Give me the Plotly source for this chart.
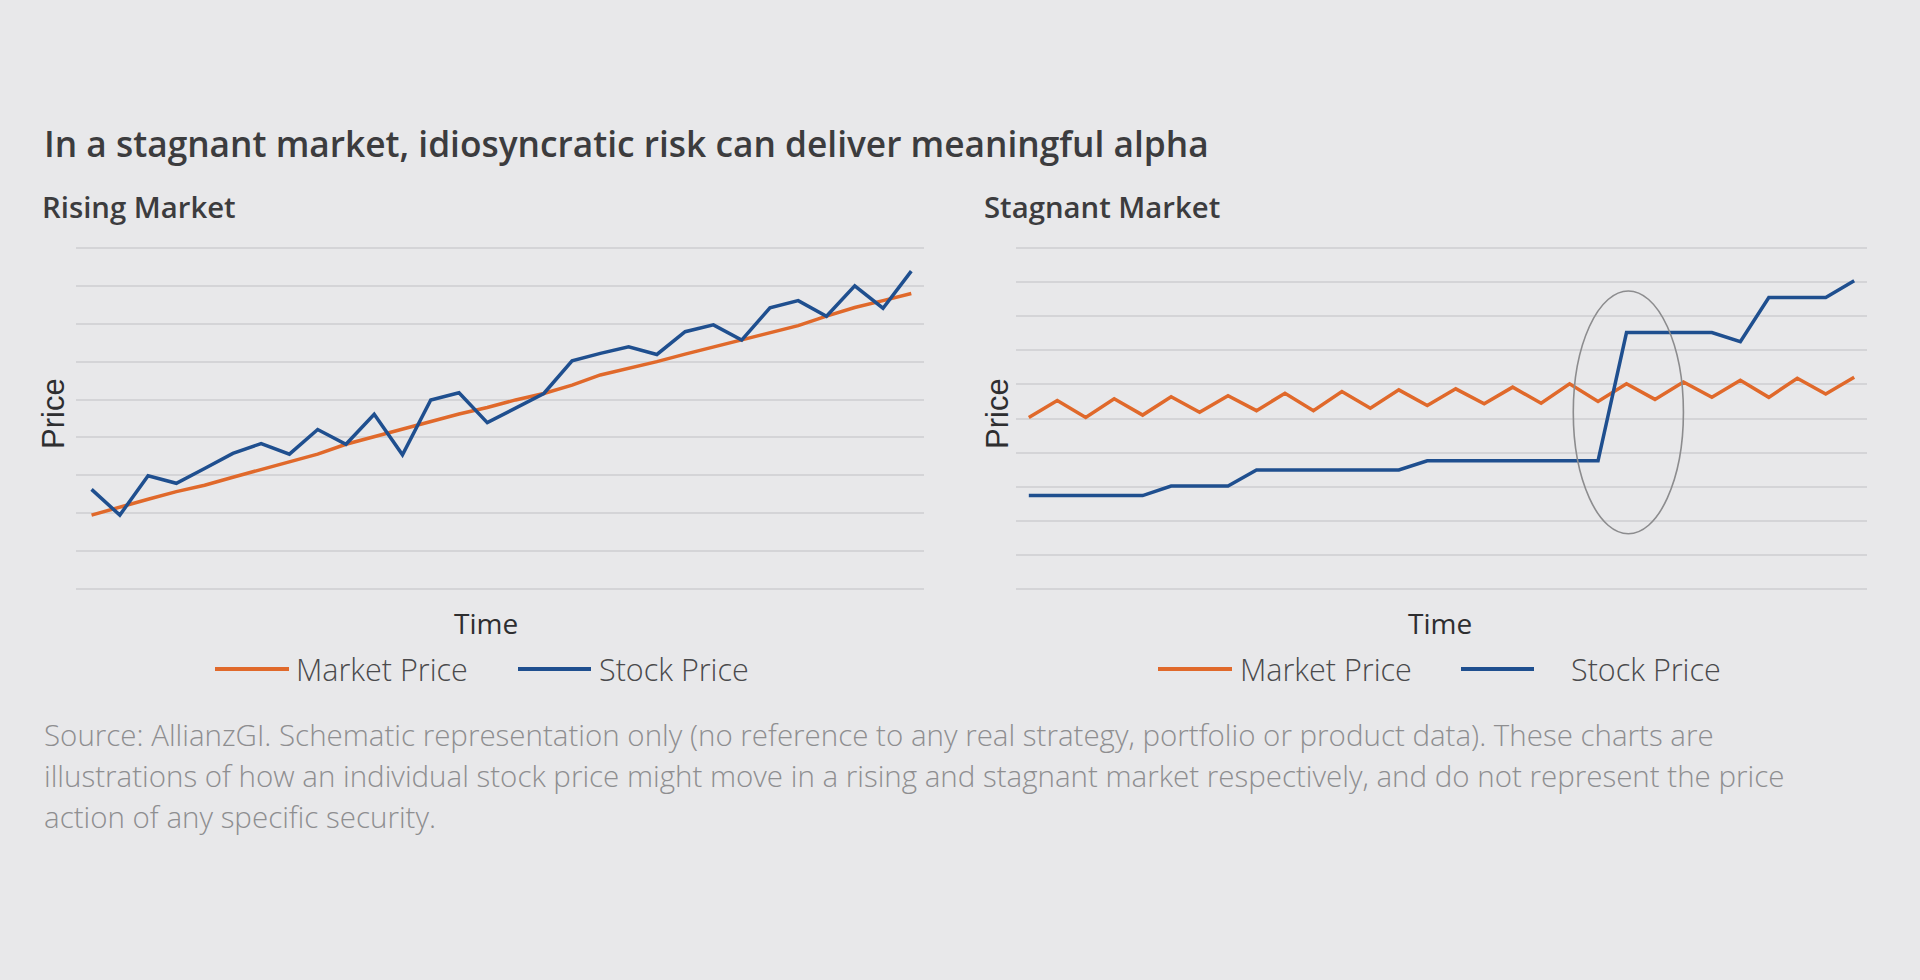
import plotly.graph_objects as go

# ---------------- data ----------------
time_idx = list(range(30))

rising_market = [1.95, 2.17, 2.37, 2.57, 2.74, 2.95, 3.16, 3.36, 3.56, 3.82,
                 4.02, 4.21, 4.43, 4.62, 4.79, 4.99, 5.16, 5.38, 5.65, 5.82,
                 6.00, 6.20, 6.39, 6.57, 6.76, 6.95, 7.20, 7.43, 7.61, 7.80]
rising_stock = [2.63, 1.95, 2.99, 2.79, 3.18, 3.58, 3.84, 3.56, 4.21, 3.82,
                4.61, 3.54, 4.99, 5.18, 4.39, 4.77, 5.16, 6.02, 6.22, 6.39,
                6.19, 6.79, 6.97, 6.57, 7.42, 7.61, 7.20, 8.00, 7.41, 8.39]

stagnant_market = [5.03, 5.53, 5.03, 5.58, 5.10, 5.64, 5.18, 5.67, 5.23, 5.74,
                   5.23, 5.79, 5.30, 5.84, 5.38, 5.87, 5.43, 5.92, 5.45, 6.02,
                   5.50, 6.02, 5.56, 6.07, 5.62, 6.12, 5.62, 6.18, 5.72, 6.21]
stagnant_stock = [2.74, 2.74, 2.74, 2.74, 2.74, 3.02, 3.02, 3.02, 3.49, 3.49,
                  3.49, 3.49, 3.49, 3.49, 3.76, 3.76, 3.76, 3.76, 3.76, 3.76,
                  3.76, 7.52, 7.52, 7.52, 7.52, 7.25, 8.55, 8.55, 8.55, 9.04]

# highlighted jump (time from/to, price from/to)
highlight_x = [19.13, 23.0]
highlight_y = [1.62, 8.74]

series_names = ["Market Price", "Stock Price"]
title_text = "In a stagnant market, idiosyncratic risk can deliver meaningful alpha"
panel_titles = ["Rising Market", "Stagnant Market"]
x_label = "Time"
y_label = "Price"
footnote_lines = [
    "Source: AllianzGI. Schematic representation only (no reference to any real strategy, portfolio or product data). These charts are",
    "illustrations of how an individual stock price might move in a rising and stagnant market respectively, and do not represent the price",
    "action of any specific security.",
]

# ---------------- style ----------------
W, H = 1920, 980
BG = "#E8E8EA"
GRID = "#D4D4D7"
ORANGE = "#E0692B"
BLUE = "#1F4F8F"
TXT = "#3A3A3C"
FOOT = "#8E8E90"
FONT = "Open Sans"

def px(x):
    return x / W

def py(y):
    return 1 - y / H

fig = go.Figure()

line_w = 3.5
fig.add_trace(go.Scatter(x=time_idx, y=rising_market, mode="lines", name=series_names[0],
                         line=dict(color=ORANGE, width=line_w), xaxis="x", yaxis="y", showlegend=False))
fig.add_trace(go.Scatter(x=time_idx, y=rising_stock, mode="lines", name=series_names[1],
                         line=dict(color=BLUE, width=line_w), xaxis="x", yaxis="y", showlegend=False))
fig.add_trace(go.Scatter(x=time_idx, y=stagnant_market, mode="lines", name=series_names[0],
                         line=dict(color=ORANGE, width=line_w), xaxis="x2", yaxis="y2", showlegend=False))
fig.add_trace(go.Scatter(x=time_idx, y=stagnant_stock, mode="lines", name=series_names[1],
                         line=dict(color=BLUE, width=line_w), xaxis="x2", yaxis="y2", showlegend=False))

# plot area: gridline 0 at y=589px, top gridline at y=248px; pad 4px so edge gridlines are drawn
TOP, BOT, PADPX = 248, 589, 4
n1, n2 = 9, 10
pad1 = PADPX * n1 / (BOT - TOP)
pad2 = PADPX * n2 / (BOT - TOP)
ydom = [py(BOT + PADPX), py(TOP - PADPX)]

common_x = dict(showgrid=False, zeroline=False, showticklabels=False, ticks="", showline=False)
common_y = dict(showgrid=True, gridcolor=GRID, gridwidth=2, zeroline=False,
                showticklabels=False, ticks="", showline=False, dtick=1, tick0=0)

fig.update_layout(
    width=W, height=H,
    margin=dict(l=0, r=0, t=0, b=0),
    paper_bgcolor=BG, plot_bgcolor=BG,
    showlegend=False,
    xaxis=dict(domain=[px(76), px(924)], range=[-0.55, 29.45], **common_x),
    yaxis=dict(domain=ydom, range=[-pad1, n1 + pad1], anchor="x", **common_y),
    xaxis2=dict(domain=[px(1016), px(1867)], range=[-0.45, 29.45], anchor="y2", **common_x),
    yaxis2=dict(domain=ydom, range=[-pad2, n2 + pad2], anchor="x2", **common_y),
)

# highlight ellipse
fig.add_shape(type="circle", xref="x2", yref="y2",
              x0=highlight_x[0], x1=highlight_x[1], y0=highlight_y[0], y1=highlight_y[1],
              line=dict(color="#8C8C8E", width=1.6), layer="above")

ann = []

def text(x, y, s, size, color=TXT, xanchor="left", weight=None, family=FONT, angle=0):
    f = dict(family=family, size=size, color=color)
    if weight is not None:
        f["weight"] = weight
    ann.append(dict(x=px(x), y=py(y), xref="paper", yref="paper", text=s, showarrow=False,
                    xanchor=xanchor, yanchor="middle", font=f, textangle=angle))

text(42, 143, title_text, 35.3, color="#3C3C3E", weight=600)
text(40, 207, panel_titles[0], 29.3, color="#3C3C3E", weight=600)
text(982, 207, panel_titles[1], 29.3, color="#3C3C3E", weight=600)

text(54, 414, y_label, 31, color="#2E2E30", xanchor="center", family="Liberation Sans", angle=-90)
text(998, 414, y_label, 31, color="#2E2E30", xanchor="center", family="Liberation Sans", angle=-90)

text(486, 623, x_label, 28, color="#2E2E30", xanchor="center")
text(1440, 623, x_label, 28, color="#2E2E30", xanchor="center")

# manual legends
legend_y = 669
legend_items = [
    # (line x0, line x1, text x, color, label)
    (215, 289, 294, ORANGE, series_names[0]),
    (518, 591, 597, BLUE, series_names[1]),
    (1158, 1232, 1238, ORANGE, series_names[0]),
    (1461, 1534, 1569, BLUE, series_names[1]),
]
for x0, x1, tx, col, lab in legend_items:
    fig.add_shape(type="line", xref="paper", yref="paper",
                  x0=px(x0), x1=px(x1), y0=py(legend_y), y1=py(legend_y),
                  line=dict(color=col, width=4))
    text(tx, legend_y, lab, 30.5, color="#4A4A4C", weight=300)

for i, line in enumerate(footnote_lines):
    text(42, 734 + i * 41, line, 29.5, color=FOOT, weight=300)

fig.update_layout(annotations=ann)

fig.write_html("out.html")
